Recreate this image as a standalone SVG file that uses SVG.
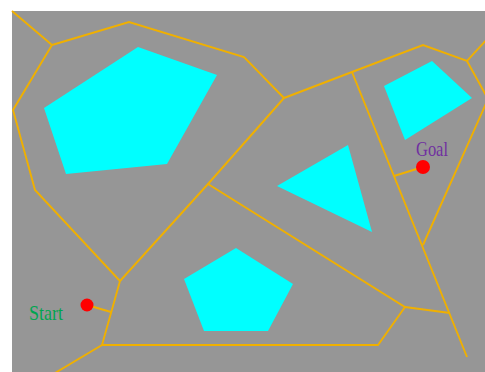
<svg xmlns="http://www.w3.org/2000/svg" width="485" height="372" viewBox="0 0 485 372">
<style>
.edge{fill:none;stroke:#F0B000;stroke-width:1.9;stroke-linejoin:miter}
.obs{fill:#00FFFF;stroke:none}
.pt{fill:#FF0000}
.lbl{font-family:"Liberation Serif","Times New Roman",serif;font-size:22px}
</style>
<rect x="0" y="0" width="485" height="372" fill="#FFFFFF"/>
<rect x="12" y="11" width="473" height="361" fill="#969696"/>
<g id="obstacle-1"><polygon class="obs" points="138,47 217,75 167,164 66,174 44,108"/></g>
<g id="obstacle-2"><polygon class="obs" points="432,61 472,98 405,140 384,86"/></g>
<g id="obstacle-3"><polygon class="obs" points="348,145 277,186 372,232"/></g>
<g id="obstacle-4"><polygon class="obs" points="236,248 293,284 268,331 204,331 184,279"/></g>
<g id="connectors">
<polyline class="edge" points="12,11 52,45"/>
<polyline class="edge" points="52,45 129,22 244,57 284,98"/>
<polyline class="edge" points="52,45 13,110 35,190 120,281"/>
<polyline class="edge" points="120,281 208,184 284,98"/>
<polyline class="edge" points="284,98 352,72 423,45 467,61 490,36"/>
<polyline class="edge" points="467,61 488,99 423,245"/>
<polyline class="edge" points="352,72 467,357"/>
<polyline class="edge" points="208,184 405,307 450,313"/>
<polyline class="edge" points="405,307 378,345 102,345 120,281"/>
<polyline class="edge" points="102,345 50,376"/>
<polyline class="edge" points="87,305 111,312"/>
<polyline class="edge" points="423,167 394,176"/>
</g>
<g id="start">
<circle class="pt" cx="87" cy="305" r="6.5"/>
<text class="lbl" x="29" y="320" fill="#00A550" textLength="34" lengthAdjust="spacingAndGlyphs">Start</text>
</g>
<g id="goal">
<circle class="pt" cx="423" cy="167" r="7"/>
<text class="lbl" x="416" y="156" fill="#7030A0" textLength="32" lengthAdjust="spacingAndGlyphs">Goal</text>
</g>
</svg>
